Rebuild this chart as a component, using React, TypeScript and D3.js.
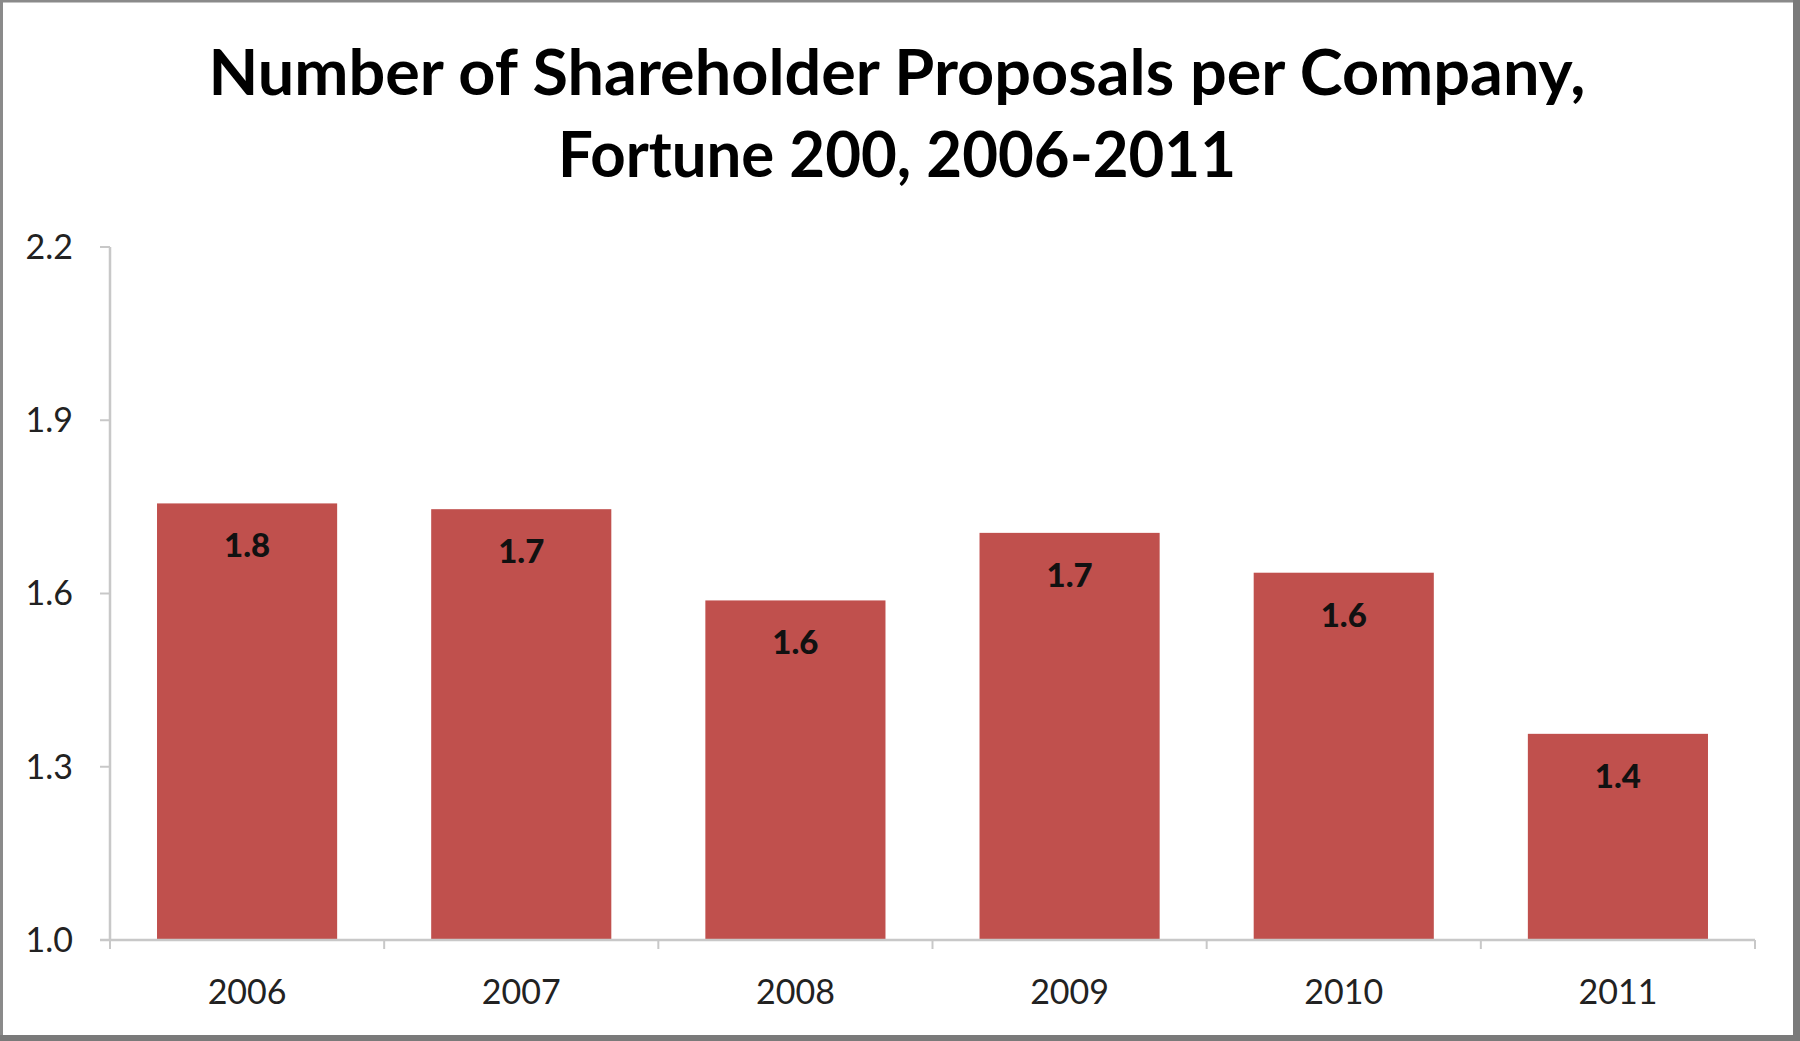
import React from "react";
import * as d3 from "d3";

const years: string[] = ["2006", "2007", "2008", "2009", "2010", "2011"];
const values: number[] = [1.756, 1.746, 1.588, 1.705, 1.636, 1.357];
const yTicks: number[] = [1.0, 1.3, 1.6, 1.9, 2.2];
const titleLines: string[] = [
  "Number of Shareholder Proposals per Company,",
  "Fortune 200, 2006-2011",
];

const W = 1800;
const H = 1041;

export default function App() {
  const x = d3
    .scaleBand<string>()
    .domain(years)
    .range([110, 1755])
    .paddingInner(0.343)
    .paddingOuter(0.1715);
  const y = d3.scaleLinear().domain([1.0, 2.2]).range([940, 247]);
  const fmt = d3.format(".1f");
  const step = x.step();
  const font = "Lato, 'Open Sans', sans-serif";
  const axisColor = "#c8c8c8";

  return (
    <svg
      width={W}
      height={H}
      style={{ position: "absolute", left: 0, top: 0, display: "block" }}
    >
      <rect x={0} y={0} width={W} height={H} fill="#ffffff" />
      {/* frame */}
      <rect x={1.5} y={1} width={W - 5} height={H - 4} fill="none" stroke="#8a8a8a" strokeWidth={3} />
      <line x1={0} y1={H - 3} x2={W} y2={H - 3} stroke="#7a7a7a" strokeWidth={6} />
      <line x1={W - 3.5} y1={0} x2={W - 3.5} y2={H} stroke="#7a7a7a" strokeWidth={7} />

      {/* title */}
      <text
        x={897}
        y={95}
        textAnchor="middle"
        fontFamily={font}
        fontWeight="bold"
        fontSize={64}
        fill="#000"
        textLength={1377}
        lengthAdjust="spacingAndGlyphs"
      >
        {titleLines[0]}
      </text>
      <text
        x={897}
        y={177}
        textAnchor="middle"
        fontFamily={font}
        fontWeight="bold"
        fontSize={64}
        fill="#000"
        textLength={678}
        lengthAdjust="spacingAndGlyphs"
      >
        {titleLines[1]}
      </text>

      {/* bars */}
      {years.map((yr, i) => (
        <rect
          key={yr}
          x={x(yr)}
          y={y(values[i])}
          width={x.bandwidth()}
          height={y(1.0) - y(values[i])}
          fill="#C0504D"
        />
      ))}

      {/* bar labels */}
      {years.map((yr, i) => (
        <text
          key={"l" + yr}
          x={(x(yr) as number) + x.bandwidth() / 2}
          y={y(values[i]) + 54}
          textAnchor="middle"
          fontFamily={font}
          fontWeight={900}
          fontSize={33}
          fill="#111"
        >
          {fmt(values[i])}
        </text>
      ))}

      {/* y axis */}
      <line x1={110} y1={y(2.2)} x2={110} y2={y(1.0)} stroke={axisColor} strokeWidth={2.5} />
      {yTicks.map((t) => (
        <g key={"yt" + t}>
          <line x1={100} y1={y(t)} x2={110} y2={y(t)} stroke={axisColor} strokeWidth={2} />
          <text
            x={73}
            y={y(t)}
            dy="0.35em"
            textAnchor="end"
            fontFamily={font}
            fontSize={34}
            fill="#222"
          >
            {fmt(t)}
          </text>
        </g>
      ))}

      {/* x axis */}
      <line x1={100} y1={y(1.0)} x2={1755} y2={y(1.0)} stroke={axisColor} strokeWidth={2.5} />
      {d3.range(years.length + 1).map((k) => (
        <line
          key={"xt" + k}
          x1={110 + k * step}
          y1={y(1.0)}
          x2={110 + k * step}
          y2={y(1.0) + 9}
          stroke={axisColor}
          strokeWidth={2}
        />
      ))}
      {years.map((yr) => (
        <text
          key={"xl" + yr}
          x={(x(yr) as number) + x.bandwidth() / 2}
          y={1004}
          textAnchor="middle"
          fontFamily={font}
          fontSize={34}
          fill="#222"
        >
          {yr}
        </text>
      ))}
    </svg>
  );
}
